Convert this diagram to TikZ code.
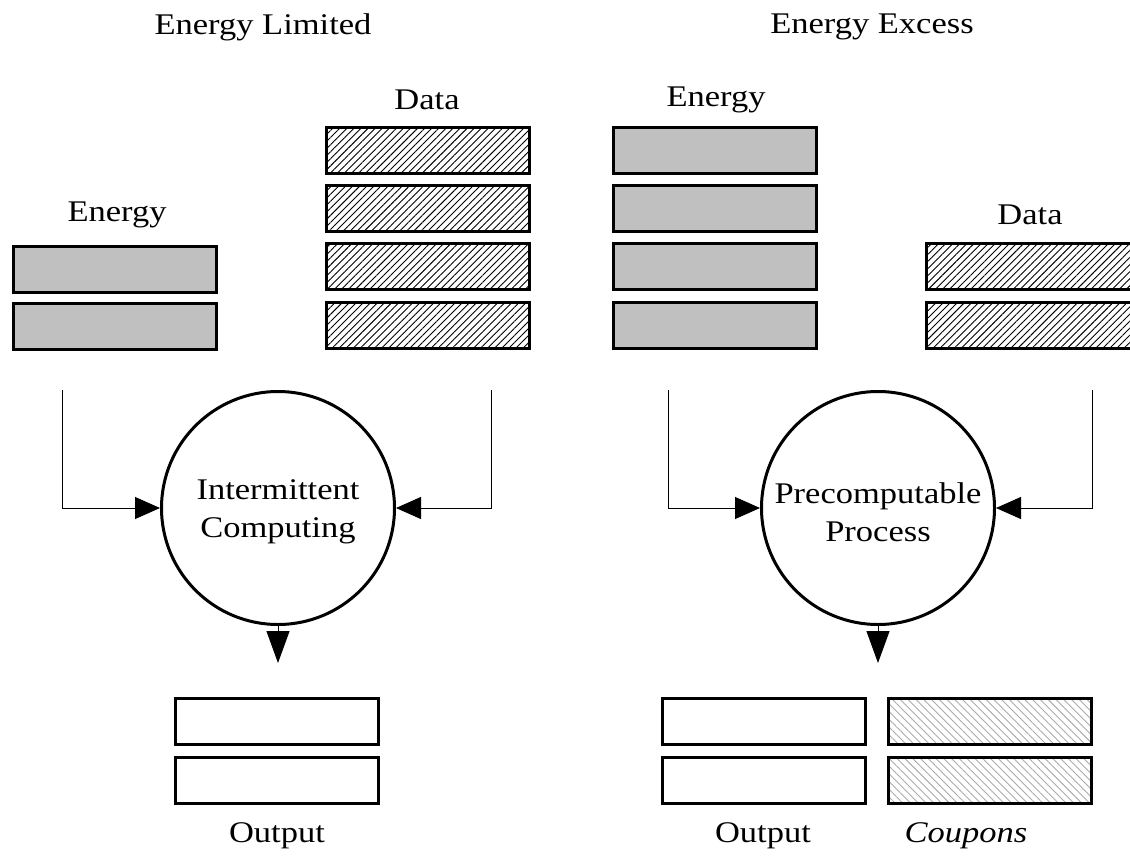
\documentclass[tikz,border=0pt]{standalone}
\usepackage{fontspec}
\setmainfont{Liberation Serif}[FakeStretch=1.15]
\usetikzlibrary{patterns.meta,arrows.meta}
\tikzset{
  box/.style={draw, line width=3pt, minimum width=203pt, minimum height=46pt, inner sep=0pt},
  enbox/.style={box, fill={rgb,255:red,192;green,192;blue,192}},
  databox/.style={box, pattern={Lines[angle=45,distance=5pt,line width=0.9pt]}, pattern color=black},
  outbox/.style={box, fill=white},
  coupbox/.style={box, pattern={Lines[angle=-45,distance=5.5pt,line width=0.9pt]}, pattern color={rgb,255:red,170;green,170;blue,170}},
  proc/.style={draw, circle, line width=3pt, minimum size=233pt, inner sep=0pt, align=center, font=\fontsize{30}{38}\selectfont},
  lbl/.style={font=\fontsize{30}{36}\selectfont, inner sep=0pt},
  conn/.style={line width=1pt},
  sidearr/.style={conn, -{Triangle[length=25pt,width=22pt]}},
  downarr/.style={conn, -{Triangle[length=32pt,width=23pt]}}
}
\begin{document}
\begin{tikzpicture}[x=1pt,y=-1pt]
\useasboundingbox (0,0) rectangle (1130,857);
\clip (0,0) rectangle (1130,857);
% titles
\node[lbl] (t1) at (263,27) {Energy Limited};
\node[lbl] (t2) at (872,27) {Energy Excess};
% left energy
\node[lbl] (le) at (117,215) {Energy};
\node[enbox] (le1) at (115,269) {};
\node[enbox] (le2) at (115,326) {};
% left data
\node[lbl] (ld) at (427,100) {Data};
\node[databox] (ld1) at (427.5,150) {};
\node[databox] (ld2) at (427.5,208) {};
\node[databox] (ld3) at (427.5,266.5) {};
\node[databox] (ld4) at (427.5,325) {};
% right energy
\node[lbl] (re) at (716,100) {Energy};
\node[enbox] (re1) at (714.5,150) {};
\node[enbox] (re2) at (714.5,208) {};
\node[enbox] (re3) at (714.5,266.5) {};
\node[enbox] (re4) at (714.5,325) {};
% right data
\node[lbl] (rd) at (1030,215) {Data};
\node[databox, minimum width=208pt] (rd1) at (1030,266.5) {};
\node[databox, minimum width=208pt] (rd2) at (1030,325) {};
% processes
\node[proc] (p1) at (278,508) {};
\node[proc] (p2) at (878,508) {};
\node[proc, draw=none, minimum size=0pt] (p1t) at (278,512) {Intermittent\\Computing};
\node[proc, draw=none, minimum size=0pt] (p2t) at (878,512) {Precomputable\\Process};
% connector starts
\coordinate (s1) at (62,390);
\coordinate (s2) at (491,390);
\coordinate (s3) at (668,390);
\coordinate (s4) at (1092,390);
\draw[sidearr] (s1) |- (p1.west);
\draw[sidearr] (s2) |- (p1.east);
\draw[sidearr] (s3) |- (p2.west);
\draw[sidearr] (s4) |- (p2.east);
% outputs
\node[outbox] (o1) at (276.5,721) {};
\node[outbox] (o2) at (276.5,780) {};
\node[outbox] (o3) at (763.5,721) {};
\node[outbox] (o4) at (763.5,780) {};
\node[coupbox] (c1) at (989.5,721) {};
\node[coupbox] (c2) at (989.5,780) {};
\coordinate (d1) at (278,663);
\coordinate (d2) at (878,663);
\draw[downarr] (p1.south) -- (d1);
\draw[downarr] (p2.south) -- (d2);
\node[lbl] (ol1) at (277,836) {Output};
\node[lbl] (ol2) at (763,836) {Output};
\node[lbl, font=\fontsize{30}{36}\selectfont\itshape] (cl) at (966,836) {Coupons};
\end{tikzpicture}
\end{document}
